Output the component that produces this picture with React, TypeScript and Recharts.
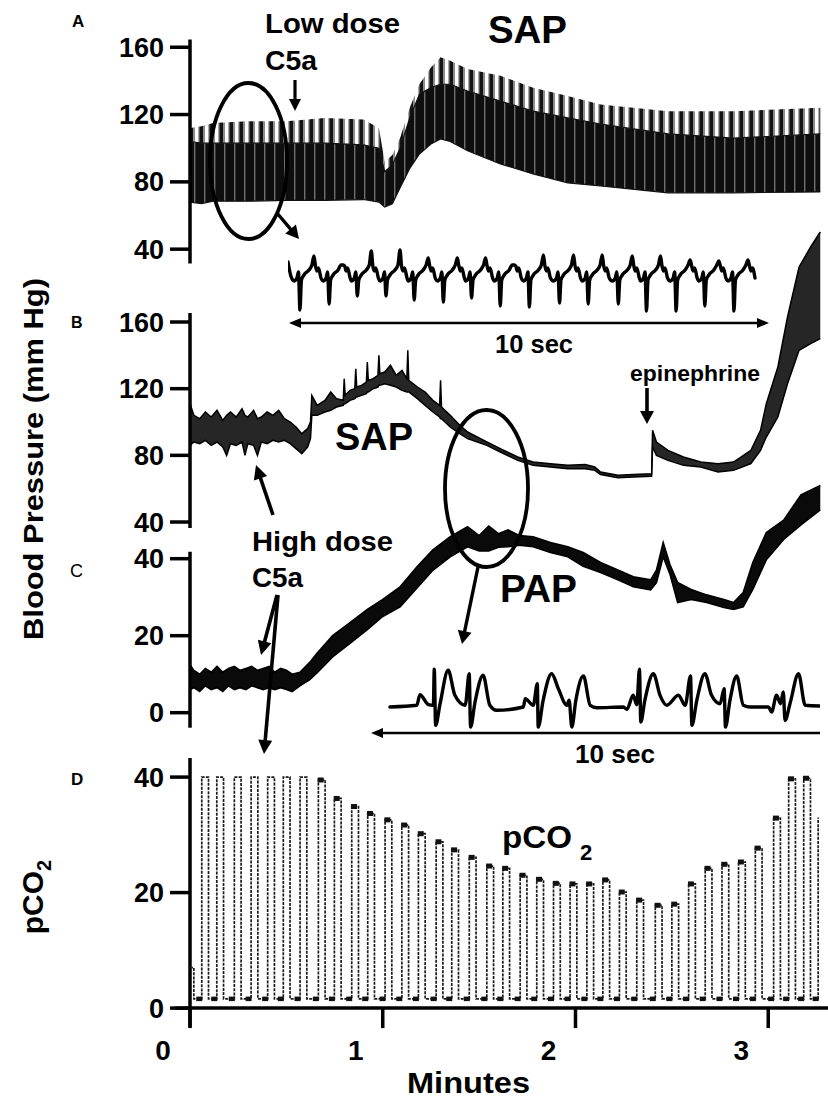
import React from 'react';
import { ComposedChart, LineChart, Line, Area, XAxis, YAxis, ReferenceLine } from 'recharts';

const FONT = '"Liberation Sans", Arial, Helvetica, sans-serif';
const X_MAX = 3.31; // minutes at the right edge of the traces

// ---- A: SAP, low dose C5a (envelope of the beat-to-beat trace) ----
const aTime = [0, 0.06, 0.12, 0.3, 0.5, 0.7, 0.9, 0.98, 1.01, 1.05, 1.09, 1.14, 1.19, 1.25, 1.3, 1.35, 1.44, 1.61, 1.78, 1.96, 2.13, 2.48, 2.82, 3.27];
const aLow = [68, 67, 68.5, 68.5, 69, 69, 69.5, 68, 65, 67, 76.5, 88, 96.5, 102.5, 105.5, 104, 98.5, 90.7, 84.7, 79.4, 77.6, 73.5, 73.5, 74];
const aDark = [104, 103, 103, 103, 103, 103, 102, 100, 86, 90, 100, 118, 132, 136, 138, 138, 134, 128, 122, 118, 114.4, 108.5, 106, 108.5];
const aPeak = [112, 113, 115, 116, 116, 118, 117, 112, 92, 96, 106, 124, 138, 148, 154, 152, 147, 143, 136, 131, 126, 122, 122, 124];

// ---- B: SAP, high dose C5a ----
const bTime = [0, 0.02, 0.05, 0.08, 0.11, 0.14, 0.17, 0.19, 0.21, 0.24, 0.27, 0.285, 0.3, 0.33, 0.35, 0.37, 0.4, 0.43, 0.46, 0.49, 0.52, 0.55, 0.58, 0.61, 0.625, 0.632, 0.66, 0.7, 0.73, 0.76, 0.795, 0.8, 0.805, 0.83, 0.855, 0.86, 0.865, 0.89, 0.915, 0.92, 0.925, 0.95, 0.975, 0.98, 0.985, 1.01, 1.04, 1.07, 1.1, 1.125, 1.13, 1.135, 1.18, 1.22, 1.26, 1.295, 1.3, 1.305, 1.35, 1.4, 1.44, 1.54, 1.61, 1.7, 1.78, 1.87, 1.96, 2.05, 2.1, 2.13, 2.22, 2.3, 2.395, 2.4, 2.42, 2.48, 2.56, 2.65, 2.74, 2.82, 2.91, 2.96, 2.99, 3.05, 3.1, 3.16, 3.22, 3.27];
const bLow = [86, 88, 87, 89, 86, 88, 85, 80, 87, 86, 88, 80, 87, 86, 80, 88, 87, 89, 88, 89, 87, 84, 81, 85, 90, 104, 104, 106, 107, 109, 110, 111, 111, 113, 114, 115, 115, 116, 117, 118, 118, 120, 121, 122, 122, 123, 122, 121, 119, 118, 118, 118, 114, 110, 106, 103, 102, 102, 97, 93, 90, 86, 82, 77, 74, 73, 72, 72, 71, 68.5, 66.5, 67, 67.5, 85, 80, 77, 74, 73, 70, 71, 75, 83, 91, 103, 123, 143, 147, 150];
const bHigh = [111, 104, 102, 106, 103, 107, 101, 104, 106, 103, 108, 104, 103, 107, 102, 103, 106, 104, 107, 102, 100, 97, 93, 96, 100, 116, 110, 113, 118, 114, 113, 126, 116, 119, 120, 132, 121, 122, 124, 136, 125, 126, 128, 140, 129, 130, 134, 128, 131, 126, 143, 125, 121, 118, 113, 110, 125, 109, 104, 98, 94, 88, 84, 79, 76, 75, 74, 74.5, 73, 70, 68, 68.5, 69, 95, 88, 83, 79, 76, 75, 76, 83, 95, 111, 133, 163, 193, 205, 214];

// ---- C: PAP ----
const cTime = [0, 0.02, 0.05, 0.08, 0.11, 0.14, 0.17, 0.2, 0.23, 0.26, 0.29, 0.32, 0.35, 0.38, 0.41, 0.44, 0.47, 0.5, 0.53, 0.57, 0.62, 0.66, 0.74, 0.83, 0.92, 1.0, 1.09, 1.18, 1.26, 1.35, 1.44, 1.5, 1.55, 1.6, 1.65, 1.71, 1.78, 1.87, 1.96, 2.04, 2.13, 2.22, 2.3, 2.39, 2.42, 2.455, 2.49, 2.53, 2.6, 2.68, 2.77, 2.82, 2.87, 2.92, 2.99, 3.08, 3.17, 3.27];
const cLow = [6, 6.5, 5.5, 7, 6, 6.5, 5.5, 7, 6, 6.5, 6, 7, 6.5, 6, 6.5, 6, 6.5, 6, 5.5, 7, 8.5, 10.4, 14.5, 18, 21.6, 25, 27.5, 32.5, 37, 40.5, 43.1, 42, 42, 43, 43.1, 43.5, 43.1, 41.6, 40.5, 38, 36.4, 34.5, 32.7, 31.9, 33.8, 40.5, 36, 28.6, 29.4, 28.6, 27.3, 26.8, 27.5, 32, 39.7, 45, 48.8, 52.7];
const cHigh = [12.5, 11, 10, 11.5, 10.5, 12, 10.5, 11.5, 12, 11, 11.5, 12, 11, 11.5, 12, 10.5, 11.5, 11, 10, 10.5, 13, 15.5, 20, 23.4, 26.8, 29.4, 32.7, 38, 42.3, 45.7, 48.3, 46, 48.5, 46.5, 47.5, 46, 45.7, 44.2, 43.1, 41.6, 39, 37.1, 35.3, 34.5, 37, 44.2, 38.5, 33.8, 32, 30.6, 29.4, 28.6, 31.2, 39, 46.8, 50, 56.6, 59];

// ---- D: pCO2, one pulse per breath ----
const pco2Start = 7;
const PCO2_BASE = 1.6;
const pco2Onsets = [0.061, 0.139, 0.23, 0.317, 0.403, 0.484, 0.571, 0.666, 0.749, 0.839, 0.922, 1.012, 1.099, 1.185, 1.277, 1.358, 1.449, 1.54, 1.623, 1.713, 1.799, 1.886, 1.972, 2.059, 2.142, 2.228, 2.318, 2.414, 2.5, 2.587, 2.673, 2.76, 2.846, 2.933, 3.028, 3.106, 3.184, 3.259];
const pco2Peaks = [40, 40, 40, 40, 40, 40, 40, 39.5, 36.3, 34.9, 33.7, 32.6, 31.7, 30.2, 28.8, 27.4, 26.1, 24.6, 24.2, 23.0, 22.3, 21.6, 21.5, 21.5, 22.2, 20.1, 18.7, 17.8, 18.0, 21.5, 24.2, 24.9, 25.3, 27.7, 32.9, 39.7, 39.8, 33];
const PULSE_TOP = 0.035;

// ---- insets: 10 s of the trace ----
const insetABeatTimes = [0.25, 0.86, 1.45, 2.05, 2.64, 3.25, 3.84, 4.44, 5.05, 5.68, 6.28, 6.91, 7.5, 8.12, 8.72, 9.33];
const insetADepth = [32, 26, 18, 18, 22, 24, 20, 28, 29, 25, 26, 26, 33, 33, 28, 33];
const insetAPeak = [22, 13, 27, 28, 20, 20, 20, 13, 23, 23, 23, 22, 22, 18, 17, 18];
const beatShapeT = [-0.125, -0.063, -0.031, 0, 0.031, 0.084, 0.188, 0.25, 0.293, 0.325, 0.356, 0.387, 0.44];
const beatShapeV: (number | null)[] = [-3, 0, 6, null, -2, 3, 8, 13, null, 12, 7, 10, 0];

const insetCTime = [0.4, 1.0, 1.07, 1.26, 1.37, 1.39, 1.42, 1.52, 1.7, 1.85, 2.08, 2.17, 2.2, 2.3, 2.48, 2.63, 2.78, 3.38, 3.42, 3.6, 3.69, 3.71, 3.82, 4.01, 4.16, 4.35, 4.4, 4.46, 4.55, 4.72, 4.87, 5.02, 5.61, 5.69, 5.83, 5.91, 5.97, 6.0, 6.09, 6.28, 6.43, 6.58, 6.84, 6.99, 7.11, 7.14, 7.25, 7.43, 7.58, 7.77, 7.86, 7.89, 7.99, 8.14, 8.29, 8.44, 8.85, 8.92, 9.03, 9.12, 9.18, 9.22, 9.33, 9.52, 9.67, 10.0];
const insetCValue = [0, 1.7, 12.3, 2.3, 1.7, 37.7, -18.3, 3.3, 36.7, 11.7, 1.7, 33.3, -20, 5, 31.7, 1.7, -3.3, 0, 8.3, 1.7, 23.3, -20, 6.7, 33.3, 18.3, 1.7, 6.7, -20, 6.7, 31, 1.7, -0.7, 0, -2.3, 11.7, 2.3, 37.7, -15, 6.7, 33.3, 11.7, 1.7, 11.7, 1.7, 31, -18.3, 6.7, 33.3, 11.7, 3.3, 18.3, -20, 6.7, 31, 1.7, 0, 0, -5, 11.7, 3.3, 15, -13.3, 3.3, 33.3, 1.7, 1];

// ---- tables for the library ----
const aRows = aTime.map((t, i) => ({ t, band: [aLow[i], aDark[i]], tips: [aDark[i], aPeak[i]] }));
const bRows = bTime.map((t, i) => ({ t, band: [bLow[i], bHigh[i]] }));
const cRows = cTime.map((t, i) => ({ t, band: [cLow[i], cHigh[i]] }));

const pco2Rows: { t: number; v?: number; low?: number; cap?: number }[] = [
  { t: 0, v: pco2Start },
  { t: 0.02, v: PCO2_BASE },
];
const lastPulse = pco2Onsets.length - 1;
pco2Onsets.forEach((t0, i) => {
  pco2Rows.push({ t: t0 - 0.013, low: PCO2_BASE });
  pco2Rows.push({ t: t0, v: pco2Peaks[i] });
  if (i < lastPulse) {
    if (i >= 7) pco2Rows.push({ t: t0 + 0.012, cap: pco2Peaks[i] });
    pco2Rows.push({ t: t0 + PULSE_TOP, v: PCO2_BASE });
  }
});

const insetARows: { t: number; v: number }[] = [{ t: 0, v: 16 }, { t: 0.06, v: 2 }];
insetABeatTimes.forEach((tb, i) => {
  beatShapeT.forEach((dt, j) => {
    const v = j === 3 ? -insetADepth[i] : j === 8 ? insetAPeak[i] : (beatShapeV[j] as number);
    insetARows.push({ t: tb + dt, v });
  });
});
const insetCRows = insetCTime.map((t, i) => ({ t, v: insetCValue[i] }));

// ---- chart pieces ----
const axisStroke = { stroke: '#000', strokeWidth: 3.5 };
const tickFont = { fill: '#000', fontSize: 27, fontWeight: 700, fontFamily: FONT };

function Panel({ top, height, domain, ticks, axisTop, axisBottom, data, xAxis, children }: any) {
  return (
    <div style={{ position: 'absolute', left: 0, top, width: 828, height }}>
      <ComposedChart width={828} height={height} data={data} margin={{ top: 0, right: 0, bottom: 0, left: 0 }}>
        {xAxis ?? <XAxis type="number" dataKey="t" domain={[0, X_MAX]} hide allowDataOverflow />}
        <YAxis
          type="number"
          domain={domain}
          ticks={ticks}
          interval={0}
          width={190}
          axisLine={false}
          tickLine={axisStroke}
          tickSize={20}
          tickMargin={6}
          tick={tickFont}
          allowDataOverflow
        />
        <ReferenceLine
          segment={[{ x: 0, y: axisTop }, { x: 0, y: axisBottom }]}
          stroke="#000"
          strokeWidth={3.5}
          ifOverflow="visible"
        />
        {children}
      </ComposedChart>
    </div>
  );
}

const MinuteTick = (p: any) => (
  <text x={p.x - 27} y={p.y} dy="0.71em" textAnchor="middle" fill="#000" fontSize={28} fontWeight={700} fontFamily={FONT}>
    {p.payload.value}
  </text>
);

const squareDot = (w: number, h: number) => (p: any) =>
  p.value == null || p.cy == null ? (
    <g key={`n${p.index}`} />
  ) : (
    <rect key={`d${p.index}`} x={p.cx - w / 2} y={p.cy - h / 2} width={w} height={h} fill="#111" />
  );

function Inset({ left, top, width, height, domain, data }: any) {
  return (
    <div style={{ position: 'absolute', left, top, width, height }}>
      <LineChart width={width} height={height} data={data} margin={{ top: 0, right: 0, bottom: 0, left: 0 }}>
        <XAxis type="number" dataKey="t" domain={[0, 10]} hide />
        <YAxis type="number" domain={domain} hide allowDataOverflow />
        <Line
          dataKey="v"
          type="monotone"
          stroke="#000"
          strokeWidth={3.4}
          strokeLinejoin="round"
          strokeLinecap="round"
          dot={false}
          isAnimationActive={false}
        />
      </LineChart>
    </div>
  );
}

function Arrow({ x1, y1, x2, y2, w = 3, head = 13, hw = 6.5, both = false }: any) {
  const a = Math.atan2(y2 - y1, x2 - x1);
  const c = Math.cos(a);
  const s = Math.sin(a);
  const tri = (x: number, y: number, dir: number) => {
    const bx = x - dir * head * c;
    const by = y - dir * head * s;
    return `${x},${y} ${bx - hw * s},${by + hw * c} ${bx + hw * s},${by - hw * c}`;
  };
  const sx = both ? x1 + head * c * 0.8 : x1;
  const sy = both ? y1 + head * s * 0.8 : y1;
  return (
    <g>
      <line x1={sx} y1={sy} x2={x2 - head * c * 0.8} y2={y2 - head * s * 0.8} stroke="#000" strokeWidth={w} />
      <polygon points={tri(x2, y2, 1)} fill="#000" />
      {both && <polygon points={tri(x1, y1, -1)} fill="#000" />}
    </g>
  );
}

const T = (props: any) => <text fill="#000" fontFamily={FONT} fontWeight={700} lengthAdjust="spacingAndGlyphs" {...props} />;

export default function App() {
  return (
    <div style={{ position: 'absolute', left: 0, top: 0, width: 828, height: 1100, background: '#fff', overflow: 'hidden' }}>
      {/* A */}
      <Panel top={21.8} height={244} domain={[30, 175]} ticks={[40, 80, 120, 160]} axisTop={164.6} axisBottom={31.5} data={aRows}>
        <defs>
          <pattern id="aBandFill" width="10" height="6" patternUnits="userSpaceOnUse">
            <rect width="10" height="6" fill="#0e0e0e" />
            <rect x="4" width="1.4" height="6" fill="#6e6e6e" />
          </pattern>
          <pattern id="aTipFill" width="10" height="6" patternUnits="userSpaceOnUse">
            <rect width="10" height="6" fill="#ffffff" />
            <rect x="0" width="3" height="6" fill="#141414" />
            <rect x="3" width="2" height="6" fill="#8c8c8c" />
            <rect x="8.5" width="1.5" height="6" fill="#555" />
          </pattern>
        </defs>
        <Area dataKey="tips" type="linear" stroke="none" fill="url(#aTipFill)" fillOpacity={1} isAnimationActive={false} />
        <Area dataKey="band" type="linear" stroke="#111" strokeWidth={1.2} fill="url(#aBandFill)" fillOpacity={1} isAnimationActive={false} />
      </Panel>

      {/* B */}
      <Panel top={222} height={316.7} domain={[30, 220]} ticks={[40, 80, 120, 160]} axisTop={165.4} axisBottom={36.4} data={bRows}>
        <Area dataKey="band" type="linear" stroke="#000" strokeWidth={1.5} fill="#262626" fillOpacity={1} isAnimationActive={false} />
      </Panel>

      {/* C */}
      <Panel top={474.3} height={254.1} domain={[-4, 62]} ticks={[0, 20, 40]} axisTop={41.8} axisBottom={-3.9} data={cRows}>
        <Area dataKey="band" type="linear" stroke="#000" strokeWidth={1.6} fill="#0a0a0a" fillOpacity={1} isAnimationActive={false} />
      </Panel>

      {/* D */}
      <Panel
        top={753.9}
        height={346.1}
        domain={[0, 44]}
        ticks={[0, 20, 40]}
        axisTop={43.3}
        axisBottom={-3.3}
        data={pco2Rows}
        xAxis={
          <XAxis
            type="number"
            dataKey="t"
            domain={[0, X_MAX]}
            ticks={[0, 1, 2, 3]}
            interval={0}
            height={92}
            axisLine={axisStroke}
            tickLine={axisStroke}
            tickSize={20}
            tickMargin={12}
            tick={<MinuteTick />}
            allowDataOverflow
          />
        }
      >
        <ReferenceLine segment={[{ x: -0.078, y: 0 }, { x: 0, y: 0 }]} stroke="#000" strokeWidth={3.5} ifOverflow="visible" />
        <Line
          dataKey="v"
          type="stepAfter"
          connectNulls
          stroke="#1c1c1c"
          strokeWidth={1.7}
          strokeDasharray="3 1.2"
          dot={false}
          isAnimationActive={false}
        />
        <Line dataKey="low" stroke="none" dot={squareDot(6, 4.5)} activeDot={false} isAnimationActive={false} />
        <Line dataKey="cap" stroke="none" dot={squareDot(6, 5)} activeDot={false} isAnimationActive={false} />
      </Panel>

      <Inset left={288} top={246.3} width={478} height={72} domain={[-40, 32]} data={insetARows} />
      <Inset left={372} top={664.7} width={448} height={66} domain={[-24, 42]} data={insetCRows} />

      <svg width={828} height={1100} style={{ position: 'absolute', left: 0, top: 0, pointerEvents: 'none' }}>
        {/* panel letters */}
        <T x={72} y={27} fontSize={17}>A</T>
        <T x={71} y={328} fontSize={16}>B</T>
        <T x={70} y={577} fontSize={18} fontWeight={400}>C</T>
        <T x={71} y={785} fontSize={17}>D</T>

        {/* axis titles */}
        <T x={43} y={459} fontSize={27} textAnchor="middle" textLength={362} transform="rotate(-90 43 459)">
          Blood Pressure (mm Hg)
        </T>
        <text x={43} y={897} fill="#000" fontFamily={FONT} fontWeight={700} fontSize={30} textAnchor="middle" transform="rotate(-90 43 897)">
          pCO<tspan fontSize={20} dy={8}>2</tspan>
        </text>
        <T x={407} y={1093} fontSize={30} textLength={123}>Minutes</T>

        {/* A annotations */}
        <T x={265} y={33} fontSize={28} textLength={135}>Low dose</T>
        <T x={265} y={70} fontSize={28} textLength={52}>C5a</T>
        <Arrow x1={295} y1={80} x2={295} y2={111} w={3.2} head={12} hw={6} />
        <T x={488} y={43} fontSize={38} textLength={79}>SAP</T>
        <ellipse cx={248.5} cy={161} rx={38.5} ry={78} fill="none" stroke="#000" strokeWidth={3.8} />
        <Arrow x1={277} y1={213} x2={299} y2={239} w={3.4} head={13} hw={7} />
        <Arrow x1={289} y1={323} x2={769} y2={323} w={2.6} head={12} hw={5} both />
        <T x={495} y={353} fontSize={25} textLength={78}>10 sec</T>

        {/* B annotations */}
        <T x={335} y={450} fontSize={38} textLength={78}>SAP</T>
        <T x={630} y={381} fontSize={22} textLength={130}>epinephrine</T>
        <Arrow x1={647} y1={388} x2={647} y2={424} w={3.6} head={13} hw={7} />
        <ellipse cx={486.5} cy={488.5} rx={41.5} ry={78.5} fill="none" stroke="#000" strokeWidth={3.8} />
        <Arrow x1={478} y1={567} x2={462} y2={644} w={3.4} head={13} hw={7} />

        {/* C annotations */}
        <T x={252} y={551} fontSize={28} textLength={141}>High dose</T>
        <T x={252} y={587} fontSize={28} textLength={51}>C5a</T>
        <Arrow x1={273} y1={515} x2={256} y2={465} w={3.6} head={14} hw={7} />
        <Arrow x1={277} y1={595} x2={261} y2={655} w={3.6} head={14} hw={7} />
        <Arrow x1={278} y1={595} x2={264} y2={754} w={3.6} head={14} hw={7} />
        <T x={500} y={602} fontSize={38} textLength={77}>PAP</T>
        <Arrow x1={820} y1={733} x2={371} y2={733} w={2.6} head={12} hw={5} />
        <T x={575} y={763} fontSize={25} textLength={80}>10 sec</T>

        {/* D annotation */}
        <T x={502} y={848} fontSize={32} textLength={70}>pCO</T>
        <T x={580} y={860} fontSize={22}>2</T>
      </svg>
    </div>
  );
}
